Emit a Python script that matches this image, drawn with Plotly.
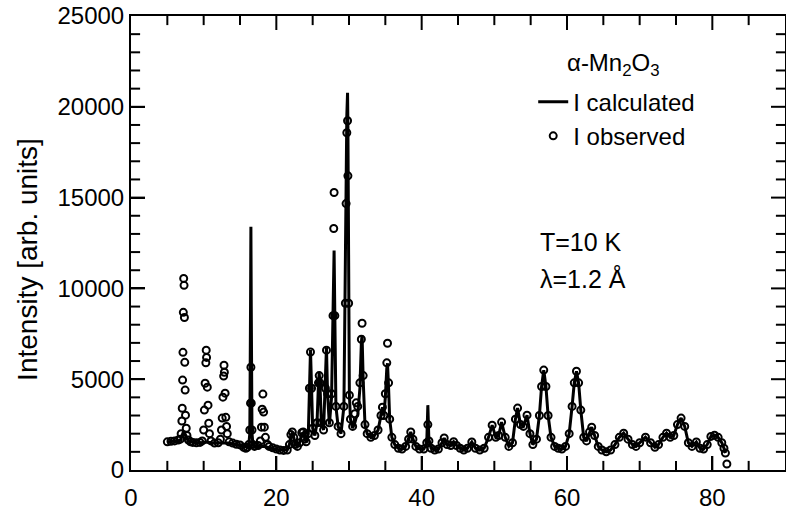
import plotly.graph_objects as go

# 2-theta grid (degrees)
two_theta = [
    5.0, 5.5, 6.0, 6.5, 6.8, 6.9, 7.0, 7.05, 7.1, 7.15,
    7.2, 7.25, 7.3, 7.35, 7.4, 7.45, 7.5, 7.6, 7.7, 7.9,
    8.2, 8.5, 9.0, 9.5, 9.8, 10.0, 10.1, 10.2, 10.3, 10.35,
    10.4, 10.5, 10.6, 10.7, 10.8, 11.0, 11.5, 12.0, 12.3, 12.45,
    12.55, 12.65, 12.75, 12.8, 12.85, 12.95, 13.05, 13.15, 13.25, 13.5,
    14.0, 14.5, 15.0, 15.5, 15.8, 16.0, 16.2, 16.35, 16.45, 16.5,
    16.55, 16.65, 16.8, 17.0, 17.5, 17.8, 17.95, 18.05, 18.15, 18.25,
    18.35, 18.5, 18.8, 19.0, 19.5, 20.0, 20.5, 21.0, 21.5, 21.8,
    22.0, 22.2, 22.4, 22.6, 22.9, 23.2, 23.5, 23.7, 23.9, 24.1,
    24.4, 24.55, 24.7, 24.85, 25.0, 25.3, 25.6, 25.8, 25.9, 26.0,
    26.2, 26.5, 26.75, 26.9, 27.05, 27.3, 27.6, 27.8, 27.9, 27.95,
    28.05, 28.2, 28.5, 28.9, 29.3, 29.5, 29.6, 29.7, 29.8, 29.85,
    29.95, 30.05, 30.2, 30.5, 30.8, 31.0, 31.2, 31.5, 31.7, 31.8,
    31.95, 32.2, 32.5, 33.0, 33.5, 34.0, 34.4, 34.6, 34.8, 35.0,
    35.2, 35.3, 35.45, 35.6, 35.9, 36.3, 36.8, 37.3, 37.8, 38.2,
    38.5, 38.8, 39.2, 39.7, 40.3, 40.7, 40.85, 41.0, 41.3, 41.8,
    42.3, 42.8, 43.1, 43.5, 44.0, 44.4, 44.8, 45.3, 45.8, 46.3,
    46.9, 47.4, 48.0, 48.6, 49.2, 49.7, 50.2, 50.6, 51.0, 51.5,
    52.0, 52.5, 52.9, 53.2, 53.6, 54.0, 54.5, 54.9, 55.3, 55.8,
    56.2, 56.5, 56.8, 57.1, 57.4, 57.8, 58.3, 58.8, 59.3, 59.8,
    60.3, 60.7, 61.0, 61.3, 61.6, 61.9, 62.3, 62.7, 63.1, 63.4,
    63.8, 64.3, 64.8, 65.4, 66.0, 66.6, 67.2, 67.8, 68.4, 69.0,
    69.5, 70.0, 70.8, 71.5, 72.1, 72.6, 73.2, 73.7, 74.2, 74.7,
    75.2, 75.7, 76.2, 76.7, 77.2, 77.8, 78.3, 78.8, 79.3, 79.8,
    80.3, 80.8, 81.3, 81.6, 81.8, 82.0,
]

# Calculated intensity (line)
i_calc = [
    1550, 1560, 1570, 1600, 1650, 1750, 1900, 2000, 2050, 2100,
    2150, 2150, 2100, 2050, 2000, 1950, 1900, 1800, 1700, 1600,
    1550, 1520, 1500, 1500, 1520, 1530, 1540, 1550, 1560, 1560,
    1560, 1550, 1540, 1530, 1520, 1500, 1480, 1480, 1490, 1500,
    1500, 1510, 1510, 1510, 1510, 1510, 1500, 1500, 1490, 1480,
    1460, 1420, 1380, 1300, 1250, 1250, 1350, 2000, 9000, 13400,
    9000, 2000, 1350, 1300, 1280, 1280, 1290, 1290, 1290, 1290,
    1290, 1280, 1270, 1250, 1200, 1150, 1100, 1080, 1100, 1400,
    1900, 2050, 1800, 1400, 1300, 1500, 2000, 2050, 1700, 1500,
    2000, 4500, 6600, 4500, 2300, 1900, 2600, 4800, 5330, 4800,
    2600, 2200, 4500, 6760, 4200, 2500, 4000, 8500, 11540, 12090,
    8500, 3500, 2400, 2000, 3500, 9500, 15500, 19500, 20770, 19000,
    10000, 4200, 2800, 2300, 2600, 2900, 3000, 4500, 7000, 7420,
    5000, 2500, 2000, 1800, 1900, 2200, 3000, 3460, 3000, 4000,
    5600, 5880, 4500, 2800, 1800, 1400, 1200, 1150, 1300, 1700,
    2090, 1700, 1300, 1150, 1150, 1500, 3570, 1600, 1200, 1100,
    1150, 1500, 1760, 1400, 1350, 1560, 1350, 1200, 1100, 1200,
    1540, 1200, 1100, 1200, 1800, 2470, 1800, 1900, 2640, 1800,
    1300, 1500, 2800, 3410, 2500, 2400, 3020, 2000, 1400, 1700,
    3000, 4600, 5500, 4600, 3000, 1800, 1300, 1200, 1150, 1300,
    2000, 3500, 4800, 5440, 4800, 3300, 1800, 1600, 2100, 2360,
    1900, 1300, 1100, 1000, 1100, 1400, 1800, 2030, 1700, 1400,
    1300, 1500, 1810, 1500, 1250, 1400, 1800, 2030, 1800, 1900,
    2500, 2860, 2400, 1500, 1300, 1540, 1200, 1150, 1400, 1850,
    1920, 1800, 1500, 1200, 930, None,
]

# Observed intensity (open circles)
i_obs = [
    1550, 1580, 1600, 1650, 1700, 2000, 2700, 3400, 4950, 6480,
    8680, 10550, 10170, 8400, 5930, 4400, 3020, 2300, 1900, 1650,
    1550, 1520, 1500, 1520, 1600, 2200, 3300, 4780, 5900, 6600,
    6200, 4560, 3570, 2580, 2000, 1600, 1480, 1500, 1700, 2200,
    2860, 4010, 5170, 5770, 5380, 4230, 2900, 2400, 2000, 1550,
    1480, 1420, 1380, 1250, 1200, 1250, 1400, 2200, 3680, 5660,
    3680, 2200, 1400, 1300, 1350, 1600, 2360, 3350, 4180, 3190,
    2360, 1800, 1400, 1300, 1220, 1150, 1100, 1080, 1100, 1400,
    1950, 2090, 1800, 1400, 1300, 1500, 2050, 2090, 1700, 1550,
    2000, 4500, 6500, 4500, 2300, 1900, 2600, 4800, 5200, 4800,
    2600, 2200, 4500, 6600, 4200, 2600, 4200, 8500, 13300, 15280,
    8500, 3500, 2400, 2000, 3500, 9180, 14670, 18570, 19230, 16200,
    9180, 4120, 2800, 2400, 3100, 3700, 3500, 4800, 7200, 8080,
    5200, 2500, 2000, 1800, 1900, 2200, 3000, 3460, 3000, 4200,
    5900, 6980, 4800, 2800, 1800, 1400, 1200, 1150, 1300, 1700,
    2090, 1700, 1300, 1150, 1150, 1500, 2500, 1600, 1200, 1100,
    1150, 1500, 1760, 1400, 1350, 1560, 1350, 1200, 1100, 1200,
    1540, 1200, 1100, 1200, 1800, 2470, 1800, 1900, 2640, 1800,
    1300, 1500, 2800, 3410, 2500, 2400, 3020, 2000, 1400, 1700,
    3000, 4600, 5500, 4600, 3000, 1800, 1300, 1200, 1150, 1300,
    2000, 3500, 4800, 5440, 4800, 3300, 1800, 1600, 2100, 2360,
    1900, 1300, 1100, 1000, 1100, 1400, 1800, 2030, 1700, 1400,
    1300, 1500, 1810, 1500, 1250, 1400, 1800, 2030, 1800, 1900,
    2500, 2860, 2400, 1500, 1300, 1540, 1200, 1150, 1400, 1850,
    1920, 1800, 1500, 1200, 930, 330,
]

# Axis ranges and tick positions
x_range = [0, 90]
y_range = [0, 25000]
x_major_ticks = [20, 40, 60, 80]
x_minor_ticks = [v for v in range(5, 90, 5) if v % 20 != 0]
y_major_ticks = [5000, 10000, 15000, 20000]
y_minor_ticks = [v for v in range(1000, 25000, 1000) if v % 5000 != 0]

FONT = "Liberation Sans, Arial, Helvetica, sans-serif"

fig = go.Figure()
fig.add_trace(go.Scatter(
    x=two_theta, y=i_calc, mode="lines", name="I calculated",
    line=dict(color="black", width=3),
))
fig.add_trace(go.Scatter(
    x=two_theta, y=i_obs, mode="markers", name="I observed",
    marker=dict(symbol="circle-open", size=7, color="black",
                line=dict(color="black", width=2)),
))


def tick_trace(xs, ys, symbol, size):
    # inward tick marks on the frame; the outer half is clipped by the plot area
    return go.Scatter(
        x=xs, y=ys, mode="markers", showlegend=False, hoverinfo="skip",
        cliponaxis=True,
        marker=dict(symbol=symbol, size=size, color="black",
                    line=dict(color="black", width=2)),
    )


# bottom and top ticks (x axis, mirrored)
fig.add_trace(tick_trace(x_major_ticks * 2,
                         [y_range[0]] * len(x_major_ticks) + [y_range[1]] * len(x_major_ticks),
                         "line-ns-open", 20))
fig.add_trace(tick_trace(x_minor_ticks * 2,
                         [y_range[0]] * len(x_minor_ticks) + [y_range[1]] * len(x_minor_ticks),
                         "line-ns-open", 13))
# left and right ticks (y axis, mirrored)
fig.add_trace(tick_trace([x_range[0]] * len(y_major_ticks) + [x_range[1]] * len(y_major_ticks),
                         y_major_ticks * 2, "line-ew-open", 20))
fig.add_trace(tick_trace([x_range[0]] * len(y_minor_ticks) + [x_range[1]] * len(y_minor_ticks),
                         y_minor_ticks * 2, "line-ew-open", 13))

fig.update_layout(
    width=786, height=506,
    margin=dict(l=131, r=1, t=16, b=36),
    plot_bgcolor="white", paper_bgcolor="white",
    font=dict(family=FONT, size=24, color="black"),
    showlegend=True,
    xaxis=dict(range=x_range, dtick=20, tick0=0,
               showline=True, linecolor="black", linewidth=2, mirror=True,
               ticks="inside", ticklen=14, tickwidth=2, tickcolor="black",
               showgrid=False, zeroline=False, automargin=False,
               ticklabelstandoff=5),
    yaxis=dict(range=y_range, dtick=5000, tick0=0, tickformat="d",
               showline=True, linecolor="black", linewidth=2, mirror=True,
               ticks="inside", ticklen=14, tickwidth=2, tickcolor="black",
               showgrid=False, zeroline=False, automargin=False),
    legend=dict(x=0.615, y=0.86, xanchor="left", yanchor="top",
                bgcolor="rgba(0,0,0,0)", font=dict(family=FONT, size=24, color="black"),
                tracegroupgap=0),
    annotations=[
        dict(text="Intensity [arb. units]", xref="paper", yref="paper",
             x=-0.1575, y=0.465, textangle=-90, showarrow=False,
             xanchor="center", yanchor="middle", font=dict(size=28, color="black")),
        dict(text="α-Mn<sub>2</sub>O<sub>3</sub>", xref="paper", yref="paper",
             x=0.7385, y=0.894, showarrow=False, xanchor="center",
             yanchor="middle", font=dict(size=24, color="black")),
        dict(text="T=10 K", xref="paper", yref="paper", x=0.622, y=0.502,
             showarrow=False, xanchor="left", yanchor="middle", font=dict(size=25, color="black")),
        dict(text="λ=1.2 Å", xref="paper", yref="paper", x=0.622, y=0.421,
             showarrow=False, xanchor="left", yanchor="middle", font=dict(size=25, color="black")),
    ],
)

fig.write_html("out.html")
